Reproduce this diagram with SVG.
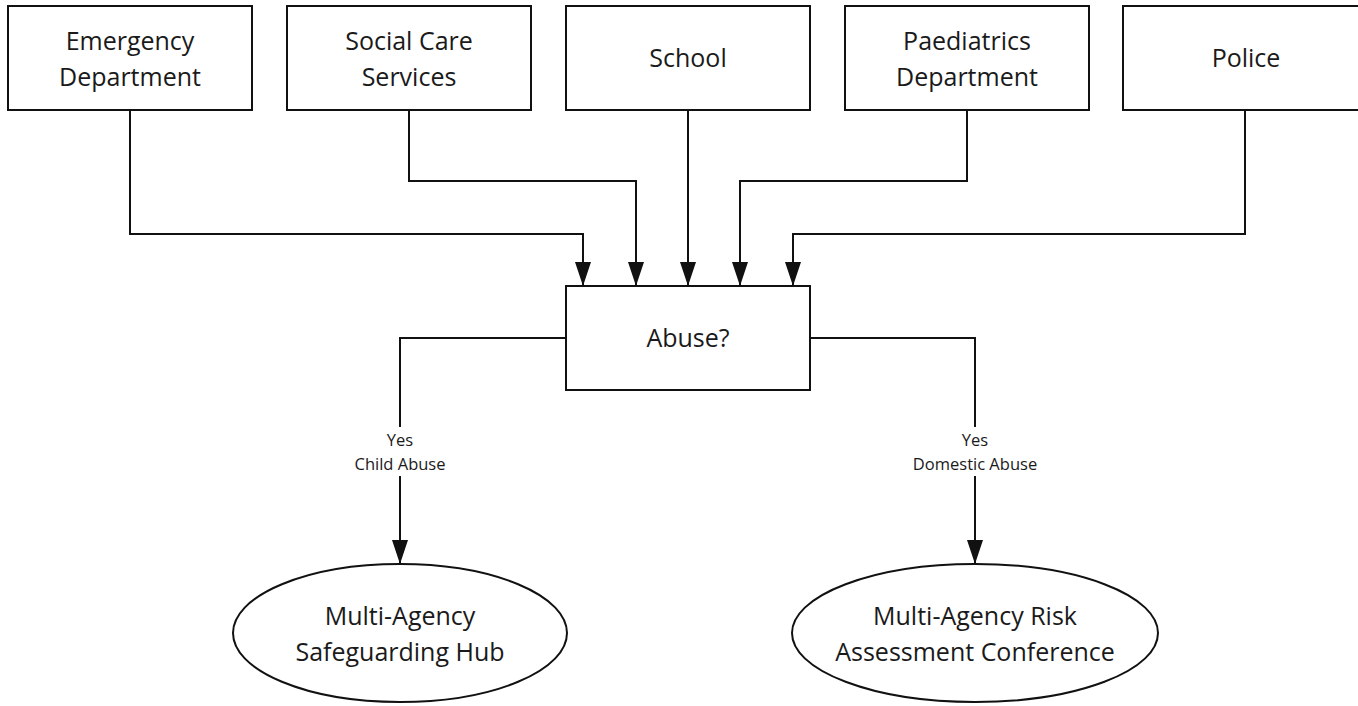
<svg xmlns="http://www.w3.org/2000/svg" width="1358" height="706" viewBox="0 0 1358 706">
  <style>
    .box { fill: #ffffff; stroke: #111111; stroke-width: 2; }
    .conn { fill: none; stroke: #111111; stroke-width: 2; }
    .t { font-family: "Open Sans", "Liberation Sans", sans-serif; font-size: 25px; fill: #1a1a1a; text-anchor: middle; }
    .lbl { font-family: "Open Sans", "Liberation Sans", sans-serif; font-size: 16.5px; fill: #1a1a1a; text-anchor: middle; }
  </style>
  <defs>
    <marker id="arrow" viewBox="0 0 24 16" refX="24" refY="8" markerWidth="24" markerHeight="16" markerUnits="userSpaceOnUse" orient="auto">
      <path d="M0,0 L24,8 L0,16 Z" fill="#111111"/>
    </marker>
  </defs>
  <rect width="1358" height="706" fill="#ffffff"/>

  <g id="connectors">
    <path class="conn" d="M130,110 V234 H583 V286" marker-end="url(#arrow)"/>
    <path class="conn" d="M409,110 V181 H636 V286" marker-end="url(#arrow)"/>
    <path class="conn" d="M688,110 V286" marker-end="url(#arrow)"/>
    <path class="conn" d="M967,110 V181 H740 V286" marker-end="url(#arrow)"/>
    <path class="conn" d="M1245,110 V234 H793 V286" marker-end="url(#arrow)"/>
    <g id="edge-child">
      <path class="conn" d="M566,338 H400 V427"/>
      <path class="conn" d="M400,476 V564" marker-end="url(#arrow)"/>
      <text class="lbl" x="400" y="446">Yes</text>
      <text class="lbl" x="400" y="470">Child Abuse</text>
    </g>
    <g id="edge-domestic">
      <path class="conn" d="M810,338 H975 V427"/>
      <path class="conn" d="M975,476 V564" marker-end="url(#arrow)"/>
      <text class="lbl" x="975" y="446">Yes</text>
      <text class="lbl" x="975" y="470">Domestic Abuse</text>
    </g>
  </g>

  <g id="emergency">
    <rect class="box" x="8" y="6" width="244" height="104"/>
    <text class="t" x="130" y="50">Emergency</text>
    <text class="t" x="130" y="86">Department</text>
  </g>
  <g id="social-care">
    <rect class="box" x="287" y="6" width="244" height="104"/>
    <text class="t" x="409" y="50">Social Care</text>
    <text class="t" x="409" y="86">Services</text>
  </g>
  <g id="school">
    <rect class="box" x="566" y="6" width="244" height="104"/>
    <text class="t" x="688" y="67">School</text>
  </g>
  <g id="paediatrics">
    <rect class="box" x="845" y="6" width="244" height="104"/>
    <text class="t" x="967" y="50">Paediatrics</text>
    <text class="t" x="967" y="86">Department</text>
  </g>
  <g id="police">
    <rect class="box" x="1123" y="6" width="244" height="104"/>
    <text class="t" x="1246" y="67">Police</text>
  </g>

  <g id="abuse">
    <rect class="box" x="566" y="286" width="244" height="104"/>
    <text class="t" x="688" y="347">Abuse?</text>
  </g>

  <g id="mash">
    <ellipse class="box" cx="400" cy="633" rx="167" ry="69"/>
    <text class="t" x="400" y="625">Multi-Agency</text>
    <text class="t" x="400" y="661">Safeguarding Hub</text>
  </g>
  <g id="marac">
    <ellipse class="box" cx="975" cy="633" rx="183" ry="69"/>
    <text class="t" x="975" y="625">Multi-Agency Risk</text>
    <text class="t" x="975" y="661">Assessment Conference</text>
  </g>
</svg>
